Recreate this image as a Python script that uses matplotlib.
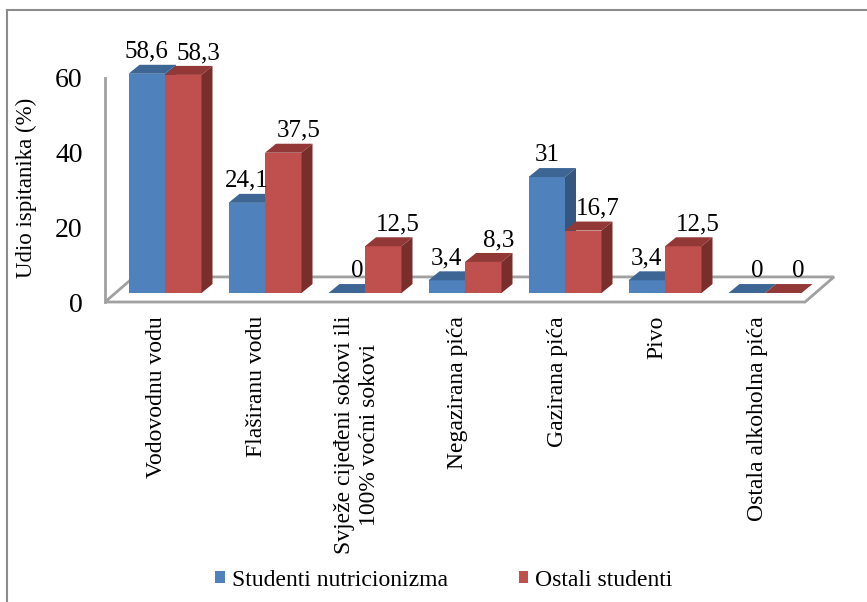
import matplotlib.pyplot as plt
from matplotlib.patches import Polygon, Patch
from matplotlib.lines import Line2D

plt.rcParams["font.family"] = ["Liberation Serif", "DejaVu Serif"]

categories = [
    "Vodovodnu vodu",
    "Flaširanu vodu",
    "Svježe cijeđeni sokovi ili\n100% voćni sokovi",
    "Negazirana pića",
    "Gazirana pića",
    "Pivo",
    "Ostala alkoholna pića",
]
nutricionizam = [58.6, 24.1, 0, 3.4, 31, 3.4, 0]
ostali = [58.3, 37.5, 12.5, 8.3, 16.7, 12.5, 0]
series_names = ["Studenti nutricionizma", "Ostali studenti"]
y_ticks = [0, 20, 40, 60]

# colours: front, top, side
BLUE = ("#4f81bd", "#3d6694", "#34577f")
RED = ("#c0504d", "#923836", "#7a2e2c")
GRID_GREY = "#a0a0a0"

# pseudo-3D geometry (x in category units, y in value units)
BAR_W = 0.365
DX, DY = 0.11, 2.4          # bar depth offset
FLOOR_X0, FLOOR_X1 = -0.6, 6.4
FLOOR_BACK_DX, FLOOR_BACK_DY = 0.29, 4.3

W, H = 867, 602
fig = plt.figure(figsize=(W / 100, H / 100), dpi=100, facecolor="white")
ax = fig.add_axes([105 / W, 1 - 302 / H, 740 / W, 272 / H])
ax.set_xlim(-0.6, 6.8)
ax.set_ylim(-DY, 70.3)
ax.set_facecolor("none")

# floor
floor = Polygon([(FLOOR_X0, -DY), (FLOOR_X1, -DY),
                 (FLOOR_X1 + FLOOR_BACK_DX, FLOOR_BACK_DY),
                 (FLOOR_X0 + FLOOR_BACK_DX, FLOOR_BACK_DY)],
                closed=True, facecolor="white", edgecolor=GRID_GREY,
                lw=2, zorder=1, clip_on=False)
ax.add_patch(floor)


def bar3d(x0, v, cols, label_shift):
    front, top, side = cols
    ax.add_patch(Polygon([(x0, 0), (x0 + BAR_W, 0), (x0 + BAR_W, v), (x0, v)],
                         closed=True, facecolor=front, edgecolor="none", zorder=3))
    ax.add_patch(Polygon([(x0, v), (x0 + BAR_W, v), (x0 + BAR_W + DX, v + DY),
                          (x0 + DX, v + DY)],
                         closed=True, facecolor=top, edgecolor="none", zorder=3))
    ax.add_patch(Polygon([(x0 + BAR_W, 0), (x0 + BAR_W + DX, DY),
                          (x0 + BAR_W + DX, v + DY), (x0 + BAR_W, v)],
                         closed=True, facecolor=side, edgecolor="none", zorder=3))
    ax.annotate(f"{v:g}".replace(".", ","), (x0 + BAR_W / 2 + label_shift, v + DY),
                xytext=(0, 5), textcoords="offset points", ha="center",
                va="baseline", fontsize=18, zorder=4)


for i, (a, b) in enumerate(zip(nutricionizam, ostali)):
    bar3d(i - BAR_W, a, BLUE, 0.0 if a else 0.1)
    bar3d(i, b, RED, 0.15)

# axes styling
for s in ["top", "right", "bottom"]:
    ax.spines[s].set_visible(False)
ax.spines["left"].set_color(GRID_GREY)
ax.spines["left"].set_linewidth(2)
ax.spines["left"].set_bounds(-DY, y_ticks[-1] - DY)
ax.set_yticks([t - DY for t in y_ticks], [str(t) for t in y_ticks])
ax.tick_params(axis="y", length=0, pad=16, labelsize=20)
ax.set_xticks([i - 0.08 for i in range(len(categories))], categories,
              rotation=90, ha="center", va="top", multialignment="center")
ax.tick_params(axis="x", length=0, pad=10, labelsize=17)
ax.set_ylabel("Udio ispitanika (%)", fontsize=16.5)
ax.yaxis.set_label_coords(-0.092, 0.42)

# legend
handles = [Patch(facecolor=BLUE[0], label=series_names[0]),
           Patch(facecolor=RED[0], label=series_names[1])]
fig.legend(handles=handles, loc="center", bbox_to_anchor=(444 / W, 1 - 580 / H),
           ncol=2, frameon=False, fontsize=17, handlelength=0.4,
           handleheight=0.4, handletextpad=0.3, columnspacing=3.0)

# outer frame (left and top edges visible)
fig.add_artist(Line2D([7 / W, 7 / W], [0, 1 - 10 / H], transform=fig.transFigure,
                      color="#8c8c8c", lw=1.5))
fig.add_artist(Line2D([7 / W, 1], [1 - 10 / H, 1 - 10 / H], transform=fig.transFigure,
                      color="#8c8c8c", lw=1.5))

fig.savefig("out.png", dpi=100, facecolor="white")
